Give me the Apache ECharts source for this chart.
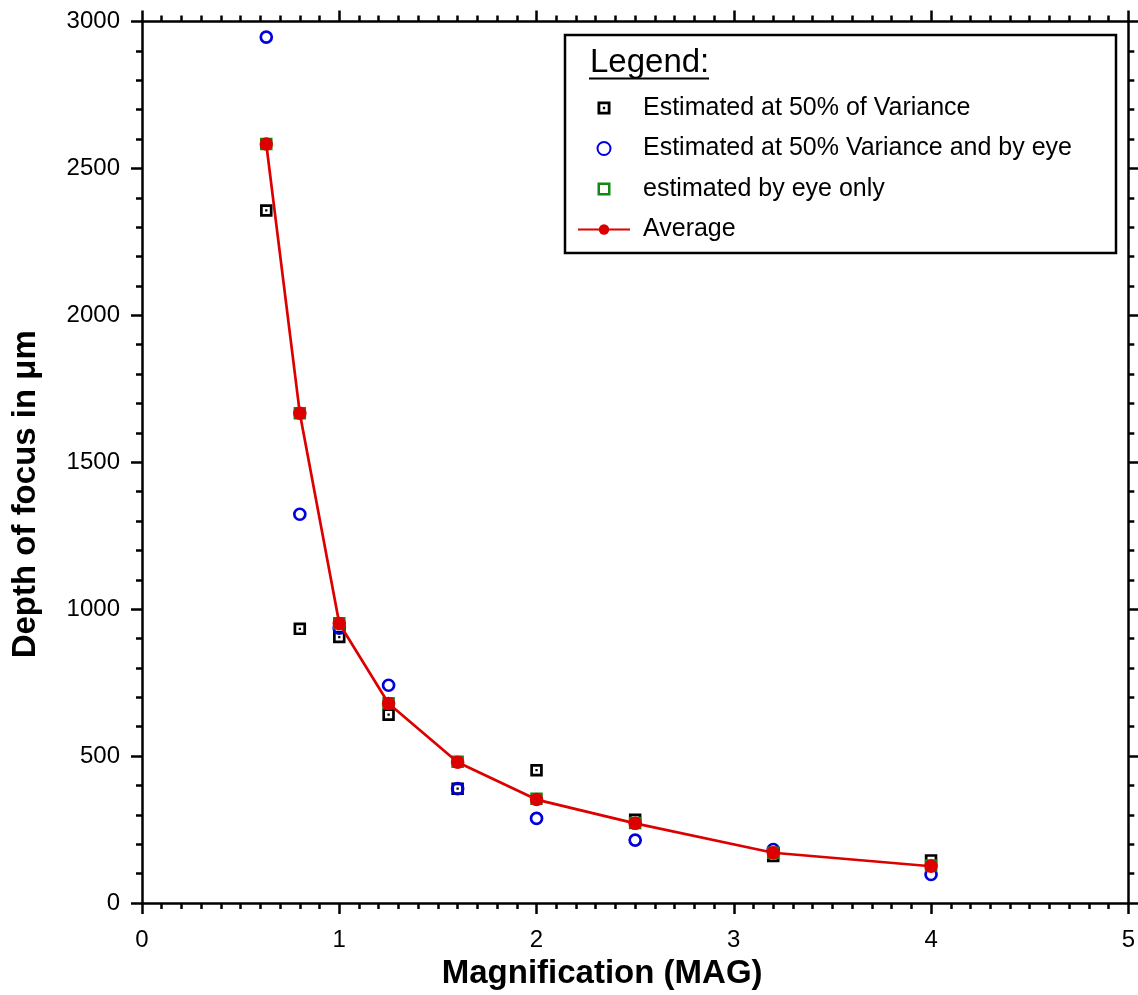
<!DOCTYPE html>
<html>
<head>
<meta charset="utf-8">
<script src="https://cdn.jsdelivr.net/npm/echarts@6/dist/echarts.min.js"></script>
<style>
html,body{margin:0;padding:0;background:#fff;}
#chart{width:1138px;height:995px;}
</style>
</head>
<body>
<div id="chart"></div>
<script>
// ---- data ----
var magnification = [0.63, 0.8, 1.0, 1.25, 1.6, 2.0, 2.5, 3.2, 4.0];
var variance50 = [2357, 933, 905, 641, 389, 452, 283, 160, 145];
var varianceAndEye = [2947, 1323, 935, 741, 389, 288, 214, 182, 97];
var eyeOnly = [2583, 1667, 952, 680, 481, 355, 272, 171, 128];
var average = [2583, 1667, 951, 679, 479, 352, 271, 171, 125];
var seriesNames = ['Estimated at 50% of Variance', 'Estimated at 50% Variance and by eye', 'estimated by eye only', 'Average'];

function pairs(ys) { return magnification.map(function (x, i) { return [x, ys[i]]; }); }

var FONT = 'Liberation Sans, Arial, Helvetica, sans-serif';
var SQ_DOT = 'path://M0,0H12V12H0Z M2.6,2.6V9.4H9.4V2.6Z M4.9,4.9H7.1V7.1H4.9Z';
var SQ_RING = 'path://M0,0H12V12H0Z M2.3,2.3V9.7H9.7V2.3Z';
function plain(v) { return String(v); }

function axisCommon(extra) {
  var base = {
    type: 'value',
    axisLine: { show: true, onZero: false, lineStyle: { color: '#000', width: 2.5 } },
    axisTick: { show: true, inside: false, length: 11, lineStyle: { color: '#000', width: 2.5 } },
    minorTick: { show: true, length: 6, lineStyle: { color: '#000', width: 2.5 } },
    splitLine: { show: false },
    minorSplitLine: { show: false },
    axisLabel: { show: true, color: '#000', fontSize: 24, fontFamily: FONT, formatter: plain }
  };
  for (var k in extra) base[k] = extra[k];
  return base;
}

var chart = echarts.init(document.getElementById('chart'), null, { renderer: 'canvas' });
chart.setOption({
  animation: false,
  backgroundColor: '#fff',
  grid: { left: 142, right: 5, top: 21.5, bottom: 91.5, containLabel: false },
  xAxis: [
    axisCommon({
      position: 'bottom', min: 0, max: 5, interval: 1,
      minorTick: { show: true, splitNumber: 10, length: 6, lineStyle: { color: '#000', width: 2.5 } },
      axisLabel: { show: true, color: '#000', fontSize: 24, fontFamily: FONT, margin: 25, formatter: plain },
      name: 'Magnification (MAG)', nameLocation: 'middle', nameGap: 54,
      nameTextStyle: { fontSize: 33, fontWeight: 'bold', color: '#000', fontFamily: FONT, padding: [0, 66, 0, 0] }
    }),
    axisCommon({
      position: 'top', min: 0, max: 5, interval: 1,
      minorTick: { show: true, splitNumber: 10, length: 6, lineStyle: { color: '#000', width: 2.5 } },
      axisLabel: { show: false }
    })
  ],
  yAxis: [
    axisCommon({
      position: 'left', min: 0, max: 3000, interval: 500,
      minorTick: { show: true, splitNumber: 5, length: 6, lineStyle: { color: '#000', width: 2.5 } },
      axisLabel: { show: true, color: '#000', fontSize: 24, fontFamily: FONT, margin: 22, formatter: plain },
      name: 'Depth of focus in \u03bcm', nameLocation: 'middle', nameGap: 100,
      nameTextStyle: { fontSize: 33, fontWeight: 'bold', color: '#000', fontFamily: FONT, padding: [0, 64, 0, 0] }
    }),
    axisCommon({
      position: 'right', min: 0, max: 3000, interval: 500,
      minorTick: { show: true, splitNumber: 5, length: 6, lineStyle: { color: '#000', width: 2.5 } },
      axisLabel: { show: false }
    })
  ],
  legend: {
    orient: 'vertical',
    left: 577, top: 95.5,
    padding: 0,
    itemWidth: 52, itemHeight: 13, itemGap: 15.5,
    symbolKeepAspect: true,
    data: seriesNames,
    textStyle: { fontSize: 25, color: '#000', fontFamily: FONT, lineHeight: 25, padding: [0, 0, 0, 8] }
  },
  graphic: [
    { type: 'rect', z: 0, shape: { x: 565, y: 35, width: 551, height: 218 },
      style: { fill: '#fff', stroke: '#000', lineWidth: 2.5 } },
    { type: 'text', z: 10, x: 590, y: 63,
      style: { text: 'Legend:', font: '33px ' + FONT, fill: '#000', verticalAlign: 'middle', align: 'left' } },
    { type: 'line', z: 10, shape: { x1: 589, y1: 78.5, x2: 709, y2: 78.5 },
      style: { stroke: '#000', lineWidth: 2 } }
  ],
  series: [
    {
      name: seriesNames[0], type: 'scatter', data: pairs(variance50),
      symbol: SQ_DOT, symbolSize: 12.5, symbolKeepAspect: true,
      itemStyle: { color: '#000', opacity: 1 }
    },
    {
      name: seriesNames[1], type: 'scatter', data: pairs(varianceAndEye),
      symbol: 'circle', symbolSize: 11,
      itemStyle: { color: 'rgba(0,0,0,0)', borderColor: '#0000dd', borderWidth: 2.7, opacity: 1 }
    },
    {
      name: seriesNames[2], type: 'scatter', data: pairs(eyeOnly),
      symbol: SQ_RING, symbolSize: 12.5, symbolKeepAspect: true,
      itemStyle: { color: '#118811', opacity: 1 }
    },
    {
      name: seriesNames[3], type: 'line', data: pairs(average),
      symbol: 'circle', symbolSize: 13.5, showSymbol: true,
      itemStyle: { color: '#dd0000', opacity: 1 },
      lineStyle: { color: '#dd0000', width: 2.7 }
    }
  ]
});
</script>
</body>
</html>
